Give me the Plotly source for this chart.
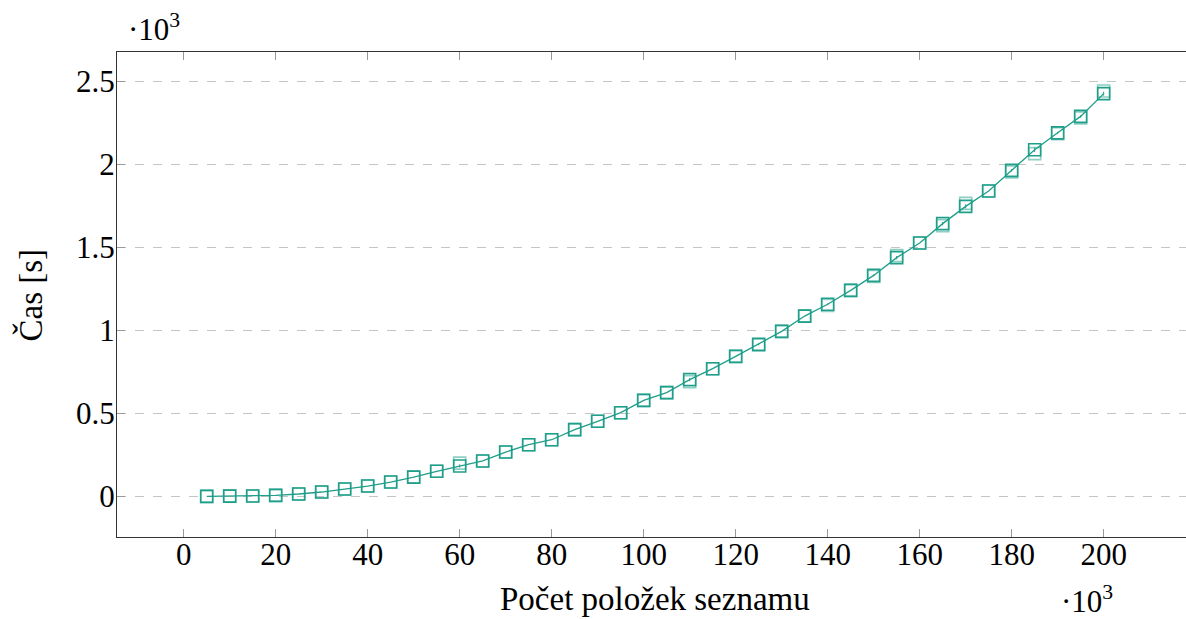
import plotly.graph_objects as go

# Number of list items (thousands)
x_items = [5, 10, 15, 20, 25, 30, 35, 40, 45, 50, 55, 60, 65, 70, 75, 80, 85, 90, 95, 100,
           105, 110, 115, 120, 125, 130, 135, 140, 145, 150, 155, 160, 165, 170, 175, 180,
           185, 190, 195, 200]
# Mean time (thousands of seconds)
t_mean = [0.000, 0.001, 0.002, 0.006, 0.014, 0.026, 0.044, 0.062, 0.086, 0.116, 0.151, 0.183,
          0.213, 0.267, 0.311, 0.341, 0.402, 0.452, 0.504, 0.578, 0.625, 0.703, 0.769, 0.843,
          0.916, 0.994, 1.086, 1.157, 1.241, 1.331, 1.438, 1.526, 1.643, 1.747, 1.840, 1.964,
          2.088, 2.190, 2.289, 2.426]
# Second (lighter) measurement
t_alt = [0.000, 0.001, 0.002, 0.006, 0.014, 0.026, 0.044, 0.062, 0.086, 0.116, 0.151, 0.200,
         0.213, 0.267, 0.311, 0.341, 0.402, 0.452, 0.504, 0.578, 0.625, 0.690, 0.769, 0.843,
         0.910, 0.994, 1.086, 1.150, 1.241, 1.325, 1.450, 1.526, 1.630, 1.765, 1.840, 1.955,
         2.065, 2.185, 2.280, 2.442]
# error bar half-widths
t_err = [0.0, 0.0, 0.0, 0.0, 0.0, 0.0, 0.0, 0.0, 0.0, 0.0, 0.0, 0.010, 0.0, 0.0, 0.0, 0.0,
         0.0, 0.0, 0.0, 0.0, 0.0, 0.010, 0.0, 0.0, 0.006, 0.0, 0.0, 0.006, 0.0, 0.006, 0.010,
         0.0, 0.010, 0.012, 0.0, 0.008, 0.014, 0.006, 0.008, 0.012]

x_ticks = [0, 20, 40, 60, 80, 100, 120, 140, 160, 180, 200]
y_ticks = [0, 0.5, 1, 1.5, 2, 2.5]
y_ticktext = ["0", "0.5", "1", "1.5", "2", "2.5"]

teal = "#1f9e89"
FONT = "Liberation Serif"
FS = 31
FT = 33

fig = go.Figure()
fig.add_trace(go.Scatter(
    x=x_items, y=t_alt, mode="markers",
    marker=dict(symbol="square-open", size=12, color=teal, opacity=0.5, line=dict(width=1.6)),
    showlegend=False, hoverinfo="skip"))
fig.add_trace(go.Scatter(
    x=x_items, y=t_mean, mode="lines+markers",
    line=dict(color=teal, width=1.3),
    marker=dict(symbol="square-open", size=12, color=teal, line=dict(width=1.6)),
    error_y=dict(type="data", array=t_err, visible=True, color=teal, thickness=1, width=0),
    showlegend=False))

fig.update_layout(
    width=1186, height=619,
    margin=dict(l=117, r=0, t=52, b=82, autoexpand=False),
    paper_bgcolor="white", plot_bgcolor="white",
    font=dict(family=FONT, size=FS, color="black"),
    xaxis=dict(range=[-14.5, 217.9], tickvals=x_ticks, ticks="inside", ticklen=8,
               tickcolor="#999999", showline=True, linecolor="#333333", linewidth=1.3,
               mirror="ticks", showgrid=False, zeroline=False, automargin=False,
               ticklabelstandoff=-10),
    yaxis=dict(range=[-0.245, 2.677], tickvals=y_ticks, ticktext=y_ticktext, ticks="inside",
               ticklen=8, tickcolor="#999999", showline=True, linecolor="#333333", linewidth=1.3,
               mirror=False, showgrid=True, gridcolor="#c4c4c4", griddash="dash", gridwidth=1,
               zeroline=False, automargin=False, ticklabelstandoff=-5),
    annotations=[
        dict(text="Počet položek seznamu", xref="paper", yref="paper", x=0.503, y=-0.127,
             xanchor="center", yanchor="middle", showarrow=False, font=dict(size=FT)),
        dict(text="Čas [s]", xref="paper", yref="paper", x=-0.08, y=0.499, textangle=-90,
             xanchor="center", yanchor="middle", showarrow=False, font=dict(size=FT)),
        dict(text="·10<sup>3</sup>", xref="paper", yref="paper", x=0.0346, y=1.0515,
             xanchor="center", yanchor="middle", showarrow=False, font=dict(size=FS)),
        dict(text="·10<sup>3</sup>", xref="paper", yref="paper", x=0.907, y=-0.128,
             xanchor="center", yanchor="middle", showarrow=False, font=dict(size=FS)),
    ],
)

fig.write_html("out.html", config={"displayModeBar": False},
               post_script="document.body.style.margin='0';")
